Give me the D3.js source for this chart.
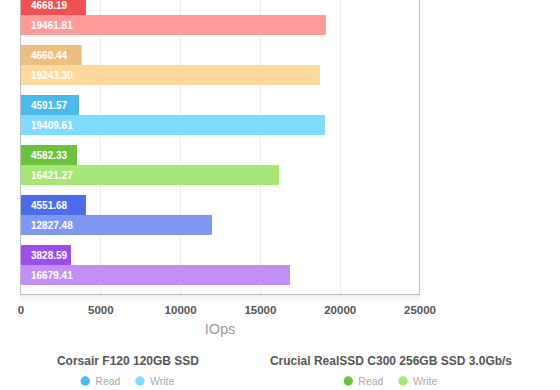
<!DOCTYPE html>
<html>
<head>
<meta charset="utf-8">
<script src="https://cdn.jsdelivr.net/npm/d3@7"></script>
<style>
  body { margin: 0; background: #fff; }
  svg { display: block; font-family: "Liberation Sans", Arial, Helvetica, sans-serif; }
</style>
</head>
<body>
<svg id="chart" width="560" height="390"></svg>
<script>
// drive groups, top to bottom (the top of the chart is cropped)
var groups = ['g1', 'g2', 'Corsair F120 120GB SSD', 'Crucial RealSSD C300 256GB SSD 3.0Gb/s', 'g5', 'g6'];
var series = ['Read', 'Write'];

// bar lengths as drawn
var readValues = [4100, 3835, 3665, 3540, 4100, 3165];
var writeValues = [19140, 18765, 19080, 16195, 12000, 16885];

// printed labels
var readLabels = ['4668.19', '4660.44', '4591.57', '4582.33', '4551.68', '3828.59'];
var writeLabels = ['19461.81', '19243.30', '19409.61', '16421.27', '12827.48', '16679.41'];

var readColors = ['#F05252', '#ECC07C', '#4BB9EA', '#6DC23B', '#4F6CE8', '#9B4EEA'];
var writeColors = ['#FF9A9A', '#FFD99C', '#7FDBFF', '#A5E677', '#7F99F2', '#C28FF6'];

var xTicks = [0, 5000, 10000, 15000, 20000, 25000];

// legend shows only the two visible entries
var legendGroups = [2, 3];

var svg = d3.select('#chart');
var left = 20.5, right = 419.5, bottom = 294;

var x = d3.scaleLinear().domain([0, 25000]).range([left, right]);
var y = d3.scaleBand().domain(groups).range([-10, 290]).paddingInner(0.2).paddingOuter(0.1);
var ySub = d3.scaleBand().domain(series).range([0, y.bandwidth()]);

var defs = svg.append('defs');
var grad = defs.append('linearGradient').attr('id', 'shadow')
    .attr('x1', 0).attr('y1', 0).attr('x2', 0).attr('y2', 1);
grad.append('stop').attr('offset', '0%').attr('stop-color', '#000').attr('stop-opacity', 0.07);
grad.append('stop').attr('offset', '100%').attr('stop-color', '#000').attr('stop-opacity', 0);

svg.append('rect')
    .attr('x', left).attr('y', bottom).attr('width', right - left).attr('height', 9)
    .attr('fill', 'url(#shadow)');

// grid lines
svg.selectAll('.grid')
    .data(xTicks.slice(1, -1))
    .enter().append('line')
    .attr('class', 'grid')
    .attr('x1', function (d) { return Math.round(x(d)) + 0.5; })
    .attr('x2', function (d) { return Math.round(x(d)) + 0.5; })
    .attr('y1', 0).attr('y2', bottom)
    .attr('stroke', '#ececec');

var rows = groups.map(function (g, i) {
  return [
    { group: g, key: 'Read', value: readValues[i], label: readLabels[i], color: readColors[i] },
    { group: g, key: 'Write', value: writeValues[i], label: writeLabels[i], color: writeColors[i] }
  ];
});

var gEnter = svg.selectAll('.group')
    .data(rows)
    .enter().append('g')
    .attr('class', 'group')
    .attr('transform', function (d, i) { return 'translate(0,' + y(groups[i]) + ')'; });

gEnter.selectAll('rect')
    .data(function (d) { return d; })
    .enter().append('rect')
    .attr('x', x(0))
    .attr('y', function (d) { return ySub(d.key); })
    .attr('width', function (d) { return x(d.value) - x(0); })
    .attr('height', ySub.bandwidth())
    .attr('fill', function (d) { return d.color; });

gEnter.selectAll('text')
    .data(function (d) { return d; })
    .enter().append('text')
    .attr('x', x(0) + 10.5)
    .attr('y', function (d) { return ySub(d.key) + ySub.bandwidth() / 2 + 3.6; })
    .attr('fill', '#fff')
    .attr('font-size', '10px')
    .attr('font-weight', 'bold')
    .text(function (d) { return d.label; });

// frame
svg.append('path')
    .attr('d', 'M' + left + ',0V' + (bottom + 0.5) + 'H' + right + 'V0')
    .attr('fill', 'none')
    .attr('stroke', '#bbb');

// x axis
var axis = d3.axisBottom(x).tickValues(xTicks).tickSize(0).tickPadding(0).tickFormat(d3.format('d'));
var ax = svg.append('g').attr('transform', 'translate(0,' + bottom + ')').call(axis);
ax.select('.domain').remove();
ax.selectAll('text')
    .attr('y', 20).attr('dy', null)
    .attr('fill', '#555')
    .attr('font-size', '11.5px')
    .attr('font-weight', 'bold')
    .attr('font-family', '"Liberation Sans", Arial, sans-serif');

svg.append('text')
    .attr('x', (left + right) / 2)
    .attr('y', 334)
    .attr('text-anchor', 'middle')
    .attr('fill', '#999')
    .attr('font-size', '14.5px')
    .text('IOps');

// legend
var legendCx = [128, 391];
legendGroups.forEach(function (gi, k) {
  var cx = legendCx[k];
  var lg = svg.append('g');
  lg.append('text')
      .attr('x', cx).attr('y', 365)
      .attr('text-anchor', 'middle')
      .attr('fill', '#555')
      .attr('font-size', '12px')
      .attr('font-weight', 'bold')
      .text(groups[gi]);
  var items = [
    { name: series[0], color: readColors[gi], dx: -42.7 },
    { name: series[1], color: writeColors[gi], dx: 12 }
  ];
  items.forEach(function (it) {
    lg.append('circle')
        .attr('cx', cx + it.dx).attr('cy', 381).attr('r', 4.7)
        .attr('fill', it.color);
    lg.append('text')
        .attr('x', cx + it.dx + 10).attr('y', 385)
        .attr('fill', '#aaa')
        .attr('font-size', '10.5px')
        .text(it.name);
  });
});
</script>
</body>
</html>
